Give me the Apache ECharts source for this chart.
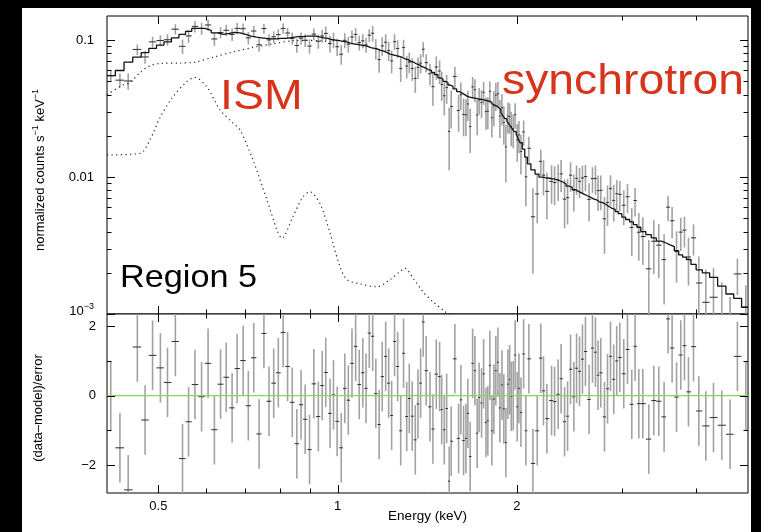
<!DOCTYPE html>
<html>
<head>
<meta charset="utf-8">
<script src="https://cdn.jsdelivr.net/npm/echarts@6.0.0/dist/echarts.min.js"></script>
<style>
html,body{margin:0;padding:0;background:#000;}
#chart{width:761px;height:532px;}
</style>
</head>
<body>
<div id="chart"></div>
<script>
// ---------- Spectrum bins: centre energy (keV) ----------
const energy = [
  0.416,0.431,0.445,0.461,0.475,0.489,0.504,0.518,0.534,0.549,0.562,0.576,0.591,0.606,0.621,
  0.636,0.650,0.665,0.678,0.694,0.708,0.723,0.738,0.752,0.767,0.781,0.795,0.810,0.824,0.839,0.854,0.868,0.882,0.897,0.912,0.928,0.942,
  0.955,0.971,0.984,0.998,1.014,1.028,1.042,1.057,1.072,1.087,1.102,1.116,1.130,1.145,1.159,1.174,1.188,1.204,1.218,1.232,1.246,1.261,1.276,1.290,1.306,1.319,1.334,1.350,1.364,1.378,1.392,1.408,
  1.429,1.445,1.464,1.483,1.495,1.510,1.524,1.539,1.551,1.573,1.596,1.610,1.627,1.642,1.654,1.669,1.685,1.700,1.715,1.728,1.744,1.758,1.774,1.787,1.801,1.815,1.829,1.843,1.858,1.872,1.887,1.901,1.916,1.931,1.944,1.956,1.971,1.986,2.002,2.015,2.031,2.052,2.070,2.094,2.127,2.163,
  2.193,2.216,2.245,2.286,2.313,2.345,2.372,2.404,2.432,2.460,2.492,2.518,2.547,2.576,2.606,2.643,2.678,2.709,2.736,2.765,2.805,2.838,2.871,2.907,2.941,2.976,3.022,3.066,3.117,3.157,3.203,3.253,
  3.329,3.394,3.460,3.532,3.587,3.643,3.706,3.767,3.821,3.881,3.957,4.039,4.150,4.275,4.414,4.558,4.689,4.843
];

// ---------- Best-fit total model per bin (counts s^-1 keV^-1) ----------
const modelFlux = [
  0.055,0.060,0.069,0.075,0.081,0.087,0.092,0.097,0.104,0.110,0.116,0.122,0.122,0.118,0.113,
  0.110,0.112,0.114,0.113,0.110,0.107,0.105,0.104,0.103,0.102,0.102,0.103,0.103,0.104,0.105,0.106,0.106,0.107,0.107,0.107,0.105,0.104,
  0.103,0.101,0.100,0.099,0.098,0.097,0.095,0.094,0.093,0.092,0.091,0.090,0.088,0.087,0.086,0.084,0.083,0.081,0.079,0.078,0.077,0.076,0.075,0.073,0.072,0.070,0.069,0.067,0.066,0.064,0.063,0.061,
  0.060,0.058,0.056,0.053,0.052,0.050,0.049,0.047,0.046,0.044,0.042,0.041,0.040,0.039,0.0385,0.038,0.0378,0.0375,0.0372,0.037,0.0368,0.0365,0.0362,0.036,0.0355,0.0348,0.034,0.033,0.032,0.031,0.0295,0.028,0.0267,0.0255,0.0245,0.0235,0.0225,0.0215,0.0205,0.0192,0.0178,0.016,0.014,0.0125,0.0113,0.0105,
  0.0100,0.0099,0.0098,0.0097,0.0096,0.0094,0.0092,0.0089,0.0086,0.0084,0.0081,0.0079,0.0077,0.0075,0.0073,0.0071,0.0069,0.0068,0.0066,0.0065,0.0063,0.0061,0.0059,0.0058,0.0056,0.0054,0.0051,0.0049,0.0047,0.0045,0.0043,0.0040,
  0.0038,0.0036,0.0034,0.0033,0.0032,0.0031,0.0029,0.0027,0.0026,0.0025,0.0023,0.0021,0.0020,0.00185,0.0016,0.0014,0.0013,0.00112
];

// ---------- Residuals (data-model)/error per bin ----------
const residual = [
  0,-1.5,-2.71,1.4,-0.7,1.16,0.8,0.38,1.56,-1.81,-0.75,0.32,-0.03,0.93,-0.98,
  0.33,0.53,-0.35,0.78,1.01,-0.29,1.09,-1.1,1.79,-0.16,0.36,0.66,1.82,0.84,-0.19,-1.38,-0.26,-0.68,-1.55,0.34,-0.6,0.29,
  0.67,-0.51,0.02,-0.74,-1.5,0.21,-0.13,0.93,1.42,0.32,0.66,0.21,1.8,1.71,0.06,-0.83,0.55,1.13,0.36,-0.57,1.56,0.84,-1.01,1.22,-0.6,-0.08,-0.59,-1.27,-0.24,0.36,2.12,0.72,
  -0.32,-0.96,0.62,0.55,-0.4,-0.98,-0.37,-2.46,-1.31,1.06,-1.23,-0.12,-1.29,-1.23,-0.51,-1.75,0.93,0.72,-1.08,-0.05,-0.21,0.63,-0.77,-0.72,0.87,-1.01,-0.1,0.72,0.96,-0.35,0.31,-0.38,-1.35,0.33,0.46,-0.02,0,1.17,-0.32,0.21,-0.48,1.2,-1.01,1.06,-1.95,-1.01,
  1.08,0.14,-0.66,-0.14,-0.17,0.04,0.49,-0.75,-0.59,0.76,-0.03,0.79,0.7,1.05,1.27,-0.11,1.37,1.25,0.59,0.66,-0.61,0.2,1.13,0.47,1.0,1.1,0.63,1.33,-0.25,1.42,-0.23,-0.23,
  -1.25,-0.14,-0.16,-0.61,2.21,1.37,-0.04,1.17,1.44,0.11,1.41,-0.44,-0.87,-0.63,-0.85,-1.11,1.13,0
];

// ---------- 1-sigma flux error per bin, as a fraction of the model ----------
const relErr = [
  0.10,0.10,0.10,0.10,0.10,0.10,0.10,0.10,0.10,0.10,0.10,0.10,0.10,0.10,0.10,
  0.10,0.10,0.10,0.10,0.10,0.10,0.10,0.10,0.10,0.10,0.10,0.10,0.10,0.10,0.10,0.10,0.10,0.10,0.10,0.10,0.11,0.11,
  0.13,0.13,0.13,0.13,0.13,0.13,0.13,0.13,0.13,0.13,0.13,0.13,0.13,0.17,0.17,0.17,0.17,0.17,0.17,0.17,0.17,0.17,0.17,0.17,0.17,0.17,0.17,0.17,0.17,0.17,0.17,0.17,0.17,
  0.22,0.22,0.22,0.22,0.22,0.22,0.22,0.22,0.22,0.22,0.22,0.22,0.22,0.22,0.22,0.22,0.22,0.22,0.22,0.22,0.22,0.22,0.22,0.22,0.22,0.28,0.28,0.28,0.28,0.28,0.28,0.28,0.28,0.28,0.28,0.28,0.28,0.28,0.28,0.28,0.28,0.28,0.28,0.28,0.28,0.28,
  0.30,0.30,0.30,0.30,0.30,0.30,0.30,0.30,0.30,0.30,0.30,0.30,0.30,0.30,0.30,0.30,0.35,0.35,0.35,0.35,0.35,0.35,0.35,0.35,0.35,0.35,0.35,0.35,0.35,0.35,0.35,0.35,
  0.40,0.40,0.40,0.40,0.40,0.40,0.40,0.40,0.40,0.40,0.45,0.45,0.45,0.45,0.45,0.45,0.45,0.45
];

// ---------- Model components (dotted) ----------
const contEnergy = [0.41,0.436,0.448,0.466,0.484,0.504,0.544,0.576,0.618,0.668,0.721,0.779,0.841,0.888,0.934,0.98];
const contFlux   = [0.0400,0.0470,0.0490,0.0580,0.0650,0.0676,0.0680,0.0690,0.0750,0.0820,0.0885,0.0940,0.0990,0.0995,0.0990,0.0965];

const ismEnergy = [0.41,0.466,0.484,0.504,0.529,0.558,0.576,0.603,0.635,0.668,0.686,0.721,0.761,0.791,0.806,0.841,0.875,0.898,0.934,0.971,1.009,1.037,1.090,1.164,1.224,1.272,1.297,1.338,1.391,1.445,1.514,1.55];
const ismFlux   = [0.0145,0.0149,0.0187,0.0275,0.0386,0.0497,0.0534,0.0456,0.0308,0.0247,0.0220,0.0133,0.0068,0.00411,0.00357,0.00513,0.0072,0.0078,0.0064,0.0039,0.00222,0.00178,0.00166,0.00158,0.00178,0.00204,0.00216,0.00183,0.00145,0.00123,0.00104,0.00096];

// ---------- Axis ticks and labels ----------
const xMajorTicks = [0.5, 1, 2];
const xMinorTicks = [0.6, 0.7, 0.8, 0.9, 3, 4];
const xTickLabels = ['0.5', '1', '2'];
const fluxMajorTicks = [0.001, 0.01, 0.1];
const fluxMinorTicks = [0.002,0.003,0.004,0.005,0.006,0.007,0.008,0.009,0.02,0.03,0.04,0.05,0.06,0.07,0.08,0.09];
const fluxTickLabels = ['{b|10}{sup|\u22123}', '{b|0.01}', '{b|0.1}'];
const resMajorTicks = [-2, 0, 2];
const resMinorTicks = [-1, 1];
const resTickLabels = ['{b|\u22122}', '{b|0}', '{b|2}'];

// ---------- Axis ranges ----------
const X_RANGE = [0.41, 4.885];
const FLUX_RANGE = [0.001, 0.15];
const RES_RANGE = [-2.8, 2.35];
const Y_RANGES = [FLUX_RANGE, RES_RANGE];

const FONT = '"Liberation Sans", Arial, Helvetica, sans-serif';
const RED = '#d8341b';
const RICH = {
  b: {fontSize: 13, lineHeight: 17, fontFamily: FONT, color: '#000'},
  sup: {fontSize: 9, lineHeight: 9, verticalAlign: 'top', fontFamily: FONT, color: '#000'}
};

// Bin edges: geometric midpoints between neighbouring bins
const binEdges = energy.map((e, i) => i === 0 ? X_RANGE[0] : Math.sqrt(energy[i - 1] * e));
binEdges.push(X_RANGE[1]);

// Data points follow from model, residual and error
const fluxErr = energy.map((e, i) => modelFlux[i] * relErr[i]);
const flux = energy.map((e, i) => modelFlux[i] + residual[i] * fluxErr[i]);

const fluxBars = energy.map((e, i) => [e, flux[i], binEdges[i], binEdges[i + 1], flux[i] - fluxErr[i], flux[i] + fluxErr[i]]);
const resBars = energy.map((e, i) => [e, residual[i], binEdges[i], binEdges[i + 1], residual[i] - 1, residual[i] + 1]);

const modelSteps = [];
energy.forEach((e, i) => {
  modelSteps.push([binEdges[i], modelFlux[i]], [binEdges[i + 1], modelFlux[i]]);
});

function errorBarRenderer(floor) {
  return function (params, api) {
    const e = api.value(0);
    const v = Math.max(api.value(1), floor);
    const lo = Math.max(api.value(4), floor);
    const hi = api.value(5);
    const pc = api.coord([e, v]);
    const pLo = api.coord([e, lo]);
    const pHi = api.coord([e, hi]);
    const pL = api.coord([api.value(2), v]);
    const pR = api.coord([api.value(3), v]);
    return {
      type: 'group',
      children: [
        {type: 'line', shape: {x1: pc[0], y1: pLo[1], x2: pc[0], y2: pHi[1]}, style: {stroke: '#a2a2a2', lineWidth: 1.6}},
        {type: 'line', shape: {x1: pL[0], y1: pc[1], x2: pR[0], y2: pc[1]}, style: {stroke: '#2e2e2e', lineWidth: 1}}
      ]
    };
  };
}

// Inward ticks on both sides of a panel, with labels on the outer side
function tickSeries(gi, dir, majors, minors, labels, labelGap, labelDy) {
  const values = majors.concat(minors);
  const yr = Y_RANGES[gi];
  return {
    type: 'custom', xAxisIndex: gi, yAxisIndex: gi, silent: true, z: 10, clip: false,
    data: values.map(v => dir === 'x' ? [v, yr[0]] : [X_RANGE[0], v]),
    renderItem(params, api) {
      const cs = params.coordSys;
      const i = params.dataIndex;
      const major = i < majors.length;
      const len = major ? 8 : 4.5;
      const st = {stroke: '#000', lineWidth: 1};
      const p = api.coord([api.value(0), api.value(1)]);
      const ch = [];
      if (dir === 'x') {
        const x = Math.round(p[0]) + 0.5;
        ch.push({type: 'line', shape: {x1: x, y1: cs.y, x2: x, y2: cs.y + len}, style: st});
        ch.push({type: 'line', shape: {x1: x, y1: cs.y + cs.height, x2: x, y2: cs.y + cs.height - len}, style: st});
        if (major && labels) {
          ch.push({type: 'text', x: p[0], y: cs.y + cs.height + labelGap,
            style: {text: labels[i], fill: '#000', fontSize: 13, fontFamily: FONT, textAlign: 'center', textVerticalAlign: 'middle'}});
        }
      } else {
        const y = Math.round(p[1]) + 0.5;
        ch.push({type: 'line', shape: {x1: cs.x, y1: y, x2: cs.x + len, y2: y}, style: st});
        ch.push({type: 'line', shape: {x1: cs.x + cs.width, y1: y, x2: cs.x + cs.width - len, y2: y}, style: st});
        if (major && labels) {
          ch.push({type: 'text', x: cs.x - labelGap, y: p[1] + (labelDy ? labelDy[i] : 0),
            style: {text: labels[i], rich: RICH, textAlign: 'right', textVerticalAlign: 'middle'}});
        }
      }
      return {type: 'group', children: ch};
    }
  };
}

const hiddenAxis = {axisLine: {show: false}, axisTick: {show: false}, axisLabel: {show: false}, splitLine: {show: false}};

const option = {
  animation: false,
  backgroundColor: '#000',
  graphic: [
    {type: 'rect', z: -10, silent: true, shape: {x: 22, y: 8, width: 729, height: 524}, style: {fill: '#fff'}},
    {type: 'text', z: 100, x: 40, y: 170, rotation: Math.PI / 2,
      style: {text: '{b|normalized counts s}{sup|\u22121}{b| keV}{sup|\u22121}', rich: RICH, textAlign: 'center', textVerticalAlign: 'middle'}},
    {type: 'text', z: 100, x: 38, y: 408, rotation: Math.PI / 2,
      style: {text: '(data\u2013model)/error', fill: '#000', fontSize: 13, fontFamily: FONT, textAlign: 'center', textVerticalAlign: 'middle'}},
    {type: 'text', z: 100, x: 427.5, y: 516,
      style: {text: 'Energy (keV)', fill: '#000', fontSize: 13.5, fontFamily: FONT, textAlign: 'center', textVerticalAlign: 'middle'}},
    {type: 'text', z: 100, x: 220, y: 97.5, scaleX: 1.08,
      style: {text: 'ISM', fill: RED, fontSize: 43, fontFamily: FONT, textAlign: 'left', textVerticalAlign: 'middle'}},
    {type: 'text', z: 100, x: 502, y: 82, scaleX: 1.09,
      style: {text: 'synchrotron', fill: RED, fontSize: 42.5, fontFamily: FONT, textAlign: 'left', textVerticalAlign: 'middle'}},
    {type: 'text', z: 100, x: 120, y: 278, scaleX: 1.07,
      style: {text: 'Region 5', fill: '#000', fontSize: 32, fontFamily: FONT, textAlign: 'left', textVerticalAlign: 'middle'}}
  ],
  grid: [
    {left: 107, top: 16, width: 641, height: 298, show: true, backgroundColor: '#fff', borderColor: '#000', borderWidth: 1},
    {left: 107, top: 314, width: 641, height: 179, show: true, backgroundColor: '#fff', borderColor: '#000', borderWidth: 1}
  ],
  xAxis: [
    Object.assign({type: 'log', logBase: 10, gridIndex: 0, min: X_RANGE[0], max: X_RANGE[1]}, hiddenAxis),
    Object.assign({type: 'log', logBase: 10, gridIndex: 1, min: X_RANGE[0], max: X_RANGE[1]}, hiddenAxis)
  ],
  yAxis: [
    Object.assign({type: 'log', logBase: 10, gridIndex: 0, min: FLUX_RANGE[0], max: FLUX_RANGE[1]}, hiddenAxis),
    Object.assign({type: 'value', gridIndex: 1, min: RES_RANGE[0], max: RES_RANGE[1]}, hiddenAxis)
  ],
  series: [
    {
      name: 'data', type: 'custom', xAxisIndex: 0, yAxisIndex: 0, z: 2, clip: true, silent: true,
      encode: {x: 0, y: 1}, data: fluxBars, renderItem: errorBarRenderer(1e-6)
    },
    {
      name: 'continuum', type: 'line', xAxisIndex: 0, yAxisIndex: 0, z: 3, symbol: 'none', smooth: 0.3, silent: true,
      data: contEnergy.map((e, i) => [e, contFlux[i]]),
      lineStyle: {color: '#222', width: 1.2, type: [1.2, 3.4]}
    },
    {
      name: 'ISM', type: 'line', xAxisIndex: 0, yAxisIndex: 0, z: 3, symbol: 'none', smooth: 0.3, silent: true,
      data: ismEnergy.map((e, i) => [e, ismFlux[i]]),
      lineStyle: {color: '#222', width: 1.2, type: [1.2, 3.4]}
    },
    {
      name: 'model', type: 'line', xAxisIndex: 0, yAxisIndex: 0, z: 4, symbol: 'none', silent: true,
      data: modelSteps,
      lineStyle: {color: '#111', width: 1.3}
    },
    {
      name: 'residuals', type: 'custom', xAxisIndex: 1, yAxisIndex: 1, z: 2, clip: true, silent: true,
      encode: {x: 0, y: 1}, data: resBars, renderItem: errorBarRenderer(-Infinity)
    },
    {
      name: 'zero', type: 'line', xAxisIndex: 1, yAxisIndex: 1, z: 5, symbol: 'none', silent: true,
      data: [[X_RANGE[0], 0], [X_RANGE[1], 0]],
      lineStyle: {color: '#7fdc4f', width: 1.3}
    },
    tickSeries(0, 'x', xMajorTicks, xMinorTicks, null, 0),
    tickSeries(1, 'x', xMajorTicks, xMinorTicks, xTickLabels, 13),
    tickSeries(0, 'y', fluxMajorTicks, fluxMinorTicks, fluxTickLabels, 13, [-3, 0, 0]),
    tickSeries(1, 'y', resMajorTicks, resMinorTicks, resTickLabels, 11, [0, 0, 0])
  ]
};

const chart = echarts.init(document.getElementById('chart'));
chart.setOption(option);
</script>
</body>
</html>
